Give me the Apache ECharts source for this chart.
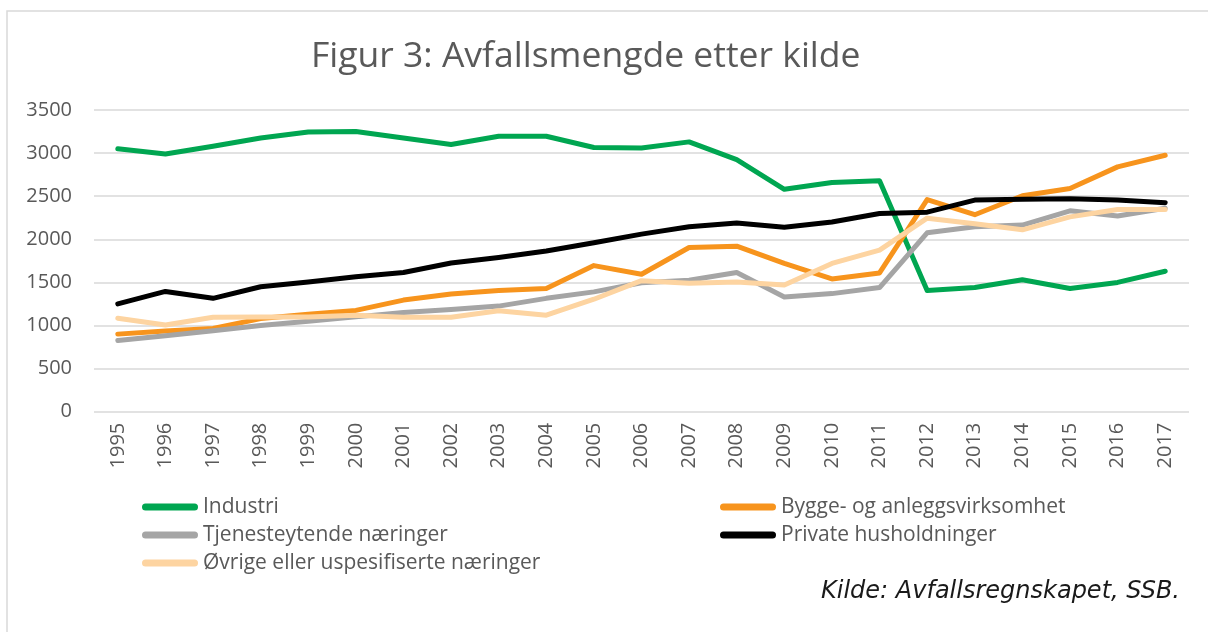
<!DOCTYPE html>
<html>
<head>
<meta charset="utf-8">
<script src="https://cdn.jsdelivr.net/npm/echarts@6/dist/echarts.min.js"></script>
<style>
  html, body { margin: 0; padding: 0; background: #fff; }
  #main { width: 1208px; height: 632px; }
</style>
</head>
<body>
<div id="main"></div>
<script>
// år og serier, lest av figuren
var years = ['1995','1996','1997','1998','1999','2000','2001','2002','2003','2004','2005',
  '2006','2007','2008','2009','2010','2011','2012','2013','2014','2015','2016','2017'];

var industri = [3050, 2990, 3080, 3175, 3245, 3250, 3175, 3100, 3195, 3195, 3065,
  3060, 3130, 2925, 2580, 2660, 2680, 1405, 1440, 1530, 1430, 1500, 1630];
var bygge = [900, 935, 965, 1080, 1130, 1175, 1295, 1365, 1405, 1430, 1695,
  1595, 1905, 1920, 1720, 1540, 1610, 2460, 2285, 2505, 2590, 2840, 2975];
var tjeneste = [825, 880, 940, 1000, 1050, 1100, 1150, 1185, 1225, 1315, 1390,
  1495, 1525, 1615, 1330, 1370, 1440, 2075, 2145, 2165, 2330, 2270, 2360];
var private_ = [1250, 1395, 1315, 1450, 1505, 1565, 1615, 1725, 1790, 1865, 1960,
  2060, 2145, 2190, 2140, 2200, 2300, 2315, 2455, 2465, 2470, 2455, 2425];
var ovrige = [1085, 1005, 1095, 1100, 1100, 1120, 1095, 1095, 1170, 1120, 1305,
  1520, 1490, 1505, 1470, 1720, 1875, 2245, 2180, 2110, 2260, 2345, 2345];

var yTicks = { min: 0, max: 3500, interval: 500 };

var names = ['Industri', 'Bygge- og anleggsvirksomhet', 'Tjenesteytende næringer',
  'Private husholdninger', 'Øvrige eller uspesifiserte næringer'];
var colors = ['#00A651', '#F7941D', '#A5A5A5', '#000000', '#FDD4A1'];
var data = [industri, bygge, tjeneste, private_, ovrige];

var txt = '#595959';
var capsule = 'path://M3.5,0 L52.5,0 A3.5,3.5 0 0 1 52.5,7 L3.5,7 A3.5,3.5 0 0 1 3.5,0 Z';

var myChart = echarts.init(document.getElementById('main'));

var legendBase = {
  orient: 'vertical',
  icon: capsule,
  itemWidth: 56,
  itemHeight: 7,
  itemGap: 6,
  padding: 0,
  selectedMode: false,
  textStyle: { color: txt, fontSize: 21, fontFamily: 'Open Sans', lineHeight: 22 }
};

var option = {
  backgroundColor: '#fff',
  color: colors,
  animation: false,
  title: {
    text: 'Figur 3: Avfallsmengde etter kilde',
    left: 311,
    top: 39,
    padding: 0,
    textStyle: { color: txt, fontSize: 35.5, fontWeight: 'normal', fontFamily: 'Open Sans' }
  },
  legend: [
    Object.assign({}, legendBase, { left: 142, top: 496, data: [names[0], names[2], names[4]] }),
    Object.assign({}, legendBase, { left: 720, top: 496, data: [names[1], names[3]] })
  ],
  grid: { left: 94, right: 19, top: 110, height: 301.7 },
  xAxis: {
    type: 'category',
    data: years,
    boundaryGap: true,
    axisLine: { show: false },
    axisTick: { show: false },
    axisLabel: { rotate: 90, color: txt, fontSize: 20, fontFamily: 'Open Sans', margin: 11 }
  },
  yAxis: {
    type: 'value',
    min: yTicks.min,
    max: yTicks.max,
    interval: yTicks.interval,
    axisLine: { show: false },
    axisTick: { show: false },
    axisLabel: {
      color: txt, fontSize: 20, fontFamily: 'Open Sans', margin: 22,
      formatter: function (v) { return String(v); }
    },
    splitLine: { lineStyle: { color: '#D9D9D9', width: 1.5 } }
  },
  series: names.map(function (n, i) {
    return {
      name: n,
      type: 'line',
      data: data[i],
      symbol: 'none',
      z: 2 + i,
      lineStyle: { color: colors[i], width: 5, cap: 'round', join: 'round' },
      itemStyle: { color: colors[i] }
    };
  }),
  graphic: [
    {
      type: 'rect',
      shape: { x: 7, y: 11, width: 1240, height: 660 },
      style: { fill: 'none', stroke: '#D9D9D9', lineWidth: 1.5 },
      silent: true
    },
    {
      type: 'text',
      right: 28,
      top: 580,
      style: {
        text: 'Kilde: Avfallsregnskapet, SSB.',
        fill: '#1a1a1a',
        font: 'italic 24px "DejaVu Sans"'
      }
    }
  ]
};

myChart.setOption(option);
</script>
</body>
</html>
